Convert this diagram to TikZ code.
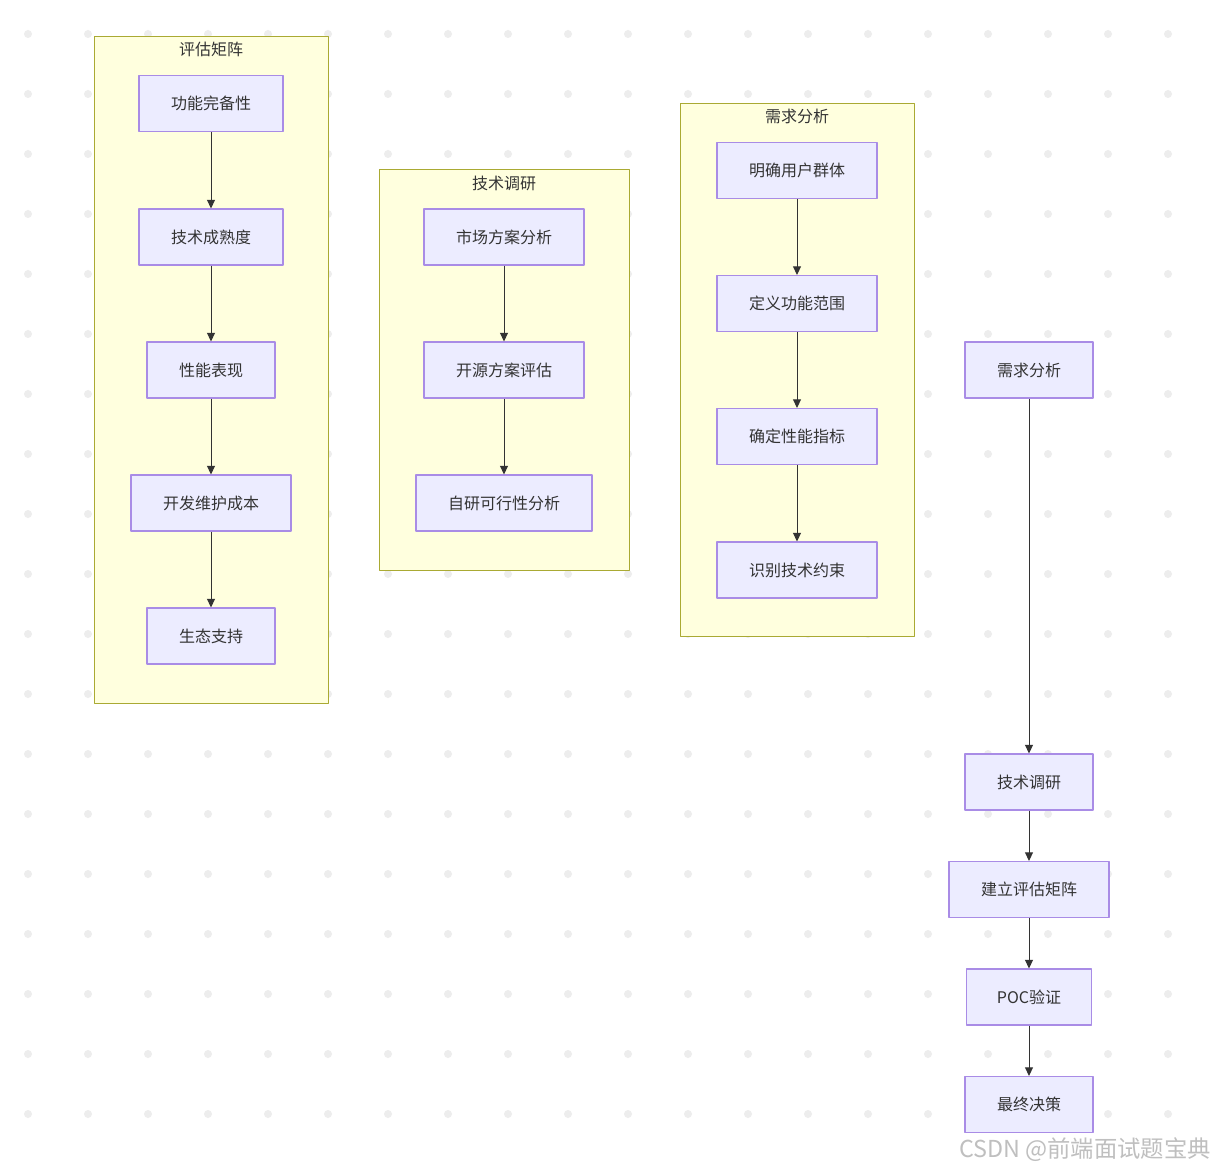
\documentclass[tikz,border=0pt]{standalone}
\usepackage{fontspec}
\newfontfamily\cjk{Noto Sans CJK SC}
\usetikzlibrary{arrows.meta}
\definecolor{nodefill}{HTML}{ECECFF}
\definecolor{nodeline}{HTML}{A98CE6}
\definecolor{clusterfill}{HTML}{FFFFDE}
\definecolor{clusterline}{HTML}{AAAA33}
\definecolor{txt}{HTML}{333333}
\definecolor{griddot}{HTML}{EDEDED}
\tikzset{
 box/.style={draw=nodeline, fill=nodefill, line width=0.8pt, minimum height=42pt,
  inner xsep=24pt, inner ysep=0pt, text=txt, font=\cjk\fontsize{12}{14}\selectfont},
 cluster/.style={draw=clusterline, fill=clusterfill, line width=0.75pt},
 title/.style={text=txt, inner sep=0pt, font=\cjk\fontsize{12}{14}\selectfont},
 link/.style={draw=txt, line width=0.75pt, -{Triangle[length=6.5pt,width=6pt]}},
}
\begin{document}
\begin{tikzpicture}[x=0.75pt,y=-0.75pt,line join=round]
 \useasboundingbox[fill=white] (0,0) rectangle (1217,1169);
 % dot grid
 \foreach \gx in {28,88,...,1168}
  \foreach \gy in {34,94,...,1114}
   \fill[griddot] (\gx,\gy) circle(3pt);
 % subgraphs
 \draw[cluster] (94,37) rectangle (328,703);
 \draw[cluster] (379,170) rectangle (629,570);
 \draw[cluster] (680,104) rectangle (914,636);
 \node[title] (t1) at (211,49) {评估矩阵};
 \node[title] (t2) at (504,183) {技术调研};
 \node[title] (t3) at (797,116) {需求分析};
 % 评估矩阵
 \node[box] (e1) at (211,103.5) {功能完备性};
 \node[box] (e2) at (211,237) {技术成熟度};
 \node[box] (e3) at (211,370) {性能表现};
 \node[box] (e4) at (211,503) {开发维护成本};
 \node[box] (e5) at (211,636) {生态支持};
 % 技术调研
 \node[box] (r1) at (504,237) {市场方案分析};
 \node[box] (r2) at (504,370) {开源方案评估};
 \node[box] (r3) at (504,503) {自研可行性分析};
 % 需求分析
 \node[box] (n1) at (797,170.5) {明确用户群体};
 \node[box] (n2) at (797,303.5) {定义功能范围};
 \node[box] (n3) at (797,436.5) {确定性能指标};
 \node[box] (n4) at (797,570) {识别技术约束};
 % main flow
 \node[box] (m1) at (1029,370) {需求分析};
 \node[box] (m2) at (1029,782) {技术调研};
 \node[box] (m3) at (1029,889.5) {建立评估矩阵};
 \node[box, inner xsep=23pt] (m4) at (1029,997) {POC验证};
 \node[box] (m5) at (1029,1104.5) {最终决策};
 \foreach \a/\b in {e1/e2,e2/e3,e3/e4,e4/e5,r1/r2,r2/r3,n1/n2,n2/n3,n3/n4,m1/m2,m2/m3,m3/m4,m4/m5}
  \draw[link] (\a) -- (\b);
 \node[text=gray!50, inner sep=0pt, font=\cjk\fontsize{17.5}{19}\selectfont] (wm) at (1085,1150) {CSDN @前端面试题宝典};
\end{tikzpicture}
\end{document}
